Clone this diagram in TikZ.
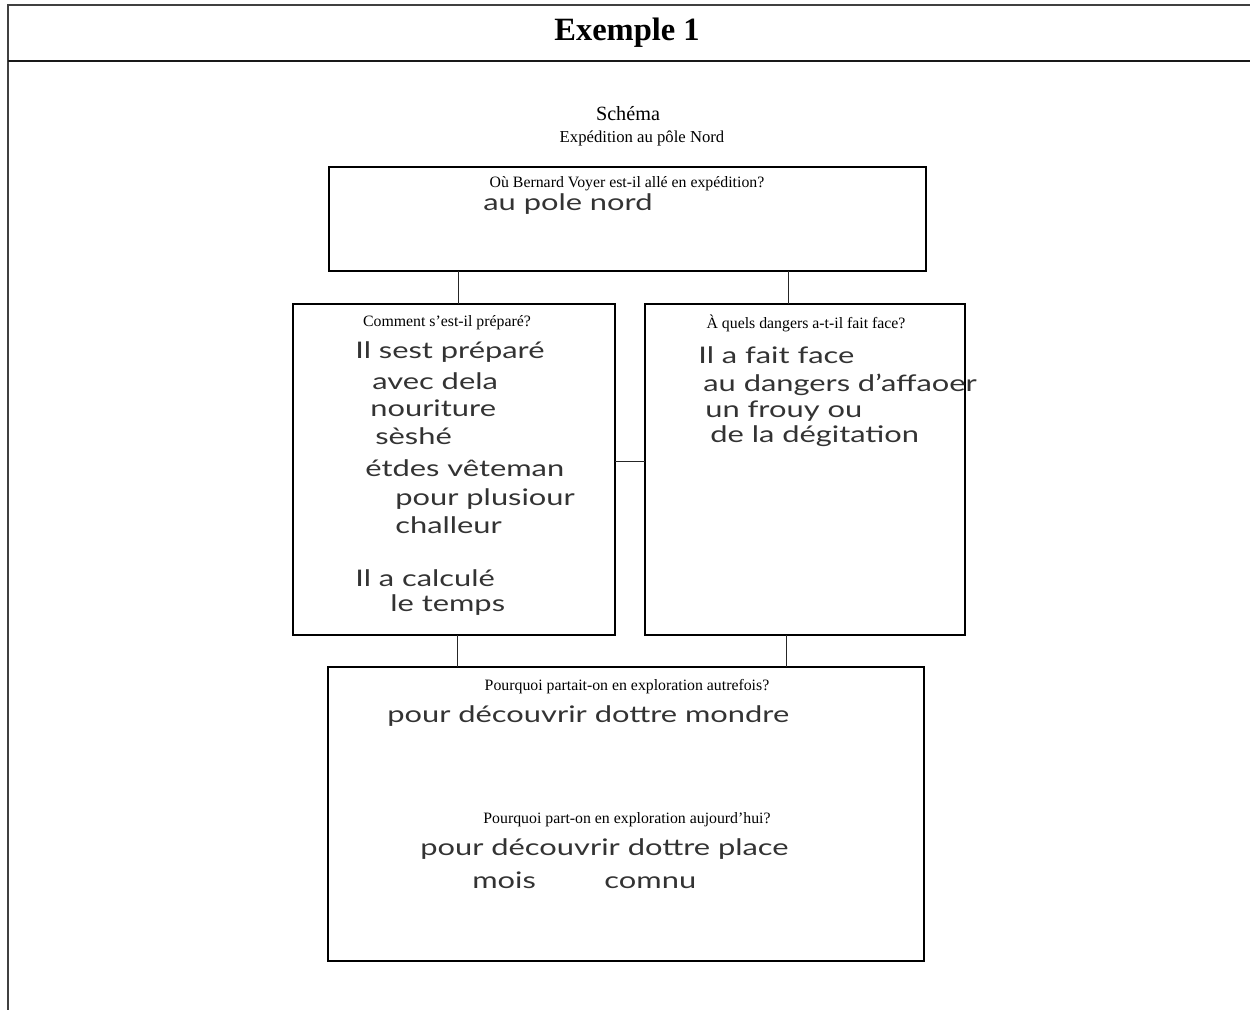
\documentclass[tikz,border=0pt]{standalone}
\usepackage{fontspec}
\setmainfont{Liberation Serif}
\newfontfamily\handfont[FakeStretch=1.35]{Lato}
\usetikzlibrary{positioning}

\begin{document}
\begin{tikzpicture}[
    x=0.02cm,
    y=-0.02cm,
    frame/.style={line width=1.1pt, color=black!75},
    box/.style={rectangle, draw=black, line width=0.8pt, inner sep=0pt, outer sep=0pt},
    link/.style={line width=0.5pt, color=black!85},
    qtext/.style={font=\fontsize{9}{11}\selectfont, inner sep=1pt},
    hand/.style={font=\handfont\fontsize{13}{16}\selectfont, color=black!80, anchor=west, inner sep=0pt}
  ]
    \useasboundingbox (0,0) rectangle (1250,1010);

    % page frame
    \draw[frame] (8,1010) -- (8,5) -- (1250,5);
    \draw[frame, color=black!90] (8,61) -- (1250,61);
    \node[font=\fontsize{18.5}{20}\selectfont\bfseries] (title) at (627,33) {Exemple 1};
    \node[font=\fontsize{11.5}{13}\selectfont] (schema) at (628,114) {Schéma};
    \node[font=\fontsize{9.5}{11}\selectfont] (subtitle) at (642,138) {Expédition au pôle Nord};

    % boxes
    \node[box, minimum width=11.94cm, minimum height=2.08cm] (where) at (627.5,219) {};
    \node[box, minimum width=6.44cm, minimum height=6.62cm] (prep) at (454,469.5) {};
    \node[box, minimum width=6.40cm, minimum height=6.62cm] (danger) at (805,469.5) {};
    \node[box, minimum width=11.92cm, minimum height=5.88cm] (why) at (626,814) {};

    % connectors
    \draw[link] (where.south -| 458,0) -- (prep.north -| 458,0);
    \draw[link] (where.south -| 788,0) -- (danger.north -| 788,0);
    \draw[link] (prep.east |- 0,461) -- (danger.west |- 0,461);
    \draw[link] (prep.south -| 457,0) -- (why.north -| 457,0);
    \draw[link] (danger.south -| 786,0) -- (why.north -| 786,0);

    % questions
    \node[qtext] (qwhere) at (627,184) {Où Bernard Voyer est-il allé en expédition?};
    \node[qtext] (qprep) at (447,323) {Comment s’est-il préparé?};
    \node[qtext] (qdanger) at (806,323) {À quels dangers a-t-il fait face?};
    \node[qtext] (qthen) at (627,687) {Pourquoi partait-on en exploration autrefois?};
    \node[qtext] (qnow) at (627,820) {Pourquoi part-on en exploration aujourd’hui?};

    % answers
    \node[hand] (awhere) at (483,204) {au pole nord};

    \node[hand] (aprep1) at (355,352) {Il sest préparé};
    \node[hand] (aprep2) at (372,381) {avec dela};
    \node[hand] (aprep3) at (370,408) {nouriture};
    \node[hand] (aprep4) at (375,436) {sèshé};
    \node[hand] (aprep5) at (365,468) {étdes vêteman};
    \node[hand] (aprep6) at (395,499) {pour plusiour};
    \node[hand] (aprep7) at (395,525) {challeur};
    \node[hand] (aprep8) at (355,578) {Il a calculé};
    \node[hand] (aprep9) at (390,605) {le temps};

    \node[hand] (adanger1) at (698,355) {Il a fait face};
    \node[hand] (adanger2) at (703,385) {au dangers d’affaoer};
    \node[hand] (adanger3) at (705,411) {un frouy ou};
    \node[hand] (adanger4) at (710,436) {de la dégitation};

    \node[hand] (athen) at (387,716) {pour découvrir dottre mondre};
    \node[hand] (anow1) at (420,849) {pour découvrir dottre place};
    \node[hand] (anow2) at (472,880) {mois\hspace{3em}comnu};
  \end{tikzpicture}
\end{document}
